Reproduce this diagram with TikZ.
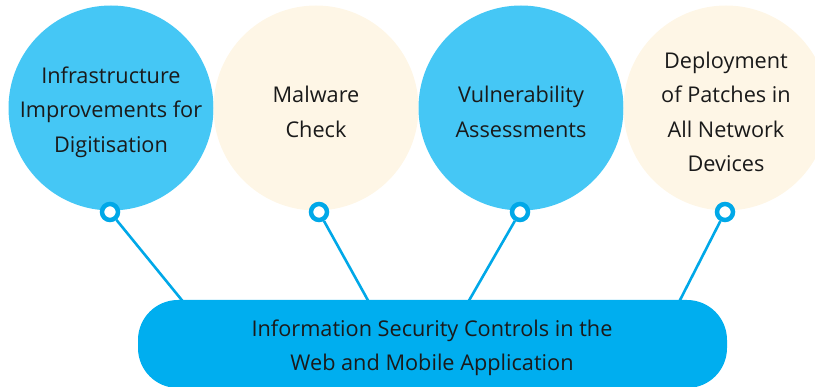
\documentclass[tikz,border=0pt]{standalone}
\usepackage{fontspec}
\setmainfont{Open Sans}
\definecolor{circblue}{RGB}{69,199,245}
\definecolor{beige}{RGB}{254,246,230}
\definecolor{pillblue}{RGB}{0,174,239}
\definecolor{lineblue}{RGB}{0,168,232}
\definecolor{txt}{RGB}{26,26,26}
\begin{document}
\begin{tikzpicture}[x=1pt,y=-1pt,
  bubble/.style={circle,minimum size=205pt,inner sep=0pt,draw=none},
  bubtext/.style={align=center,text=txt,font=\fontsize{21.7}{34.5}\selectfont,inner sep=0pt},
  ringnode/.style={circle,draw=lineblue,line width=4.5pt,fill=white,minimum size=16pt,inner sep=0pt},
  conn/.style={draw=lineblue,line width=2.6pt},
  pill/.style={rectangle,rounded corners=40pt,fill=pillblue,minimum width=589pt,minimum height=88pt,inner sep=0pt}]
\useasboundingbox (0,0) rectangle (815,387);
\clip (0,0) rectangle (815,387);
% circles
\node[bubble,fill=circblue] (c1) at (111,108) {};
\node[bubble,fill=beige] (c2) at (316,108) {};
\node[bubble,fill=circblue] (c3) at (521,108) {};
\node[bubble,fill=beige] (c4) at (726,108) {};
\node[bubtext] (t1) at (111,112) {Infrastructure\\Improvements for\\Digitisation};
\node[bubtext] (t2) at (316,112) {Malware\\Check};
\node[bubtext] (t3) at (521,112) {Vulnerability\\Assessments};
\node[bubtext] (t4) at (726,112) {Deployment\\of Patches in\\All Network\\Devices};
% connector targets
\coordinate (p1) at (185,304);
\coordinate (p2) at (370,304);
\coordinate (p3) at (467,304);
\coordinate (p4) at (678,304);
% rings
\node[ringnode] (r1) at (110,212) {};
\node[ringnode] (r2) at (319,212) {};
\node[ringnode] (r3) at (520,212) {};
\node[ringnode] (r4) at (725,212) {};
\draw[conn] (r1) -- (p1);
\draw[conn] (r2) -- (p2);
\draw[conn] (r3) -- (p3);
\draw[conn] (r4) -- (p4);
% pill
\node[pill] (pl) at (432.5,344) {};
\node[bubtext] (pt) at (432,348) {Information Security Controls in the\\Web and Mobile Application};
\end{tikzpicture}
\end{document}
